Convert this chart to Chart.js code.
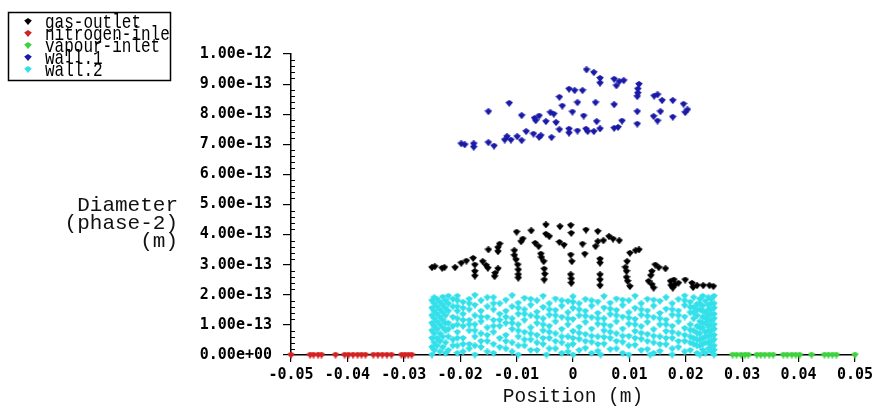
<!DOCTYPE html>
<html>
<head>
<meta charset="utf-8">
<title>Diameter (phase-2) vs Position</title>
<script src="https://cdn.jsdelivr.net/npm/chart.js@4.4.1/dist/chart.umd.min.js"></script>
<style>
  html, body { margin: 0; padding: 0; background: #fff; }
  #wrap { width: 877px; height: 409px; }
</style>
</head>
<body>
<div id="wrap"><canvas id="grafico" width="877" height="409"></canvas></div>
<script>
// posições em m, diâmetros em unidades de 1e-13 m
const xTickValues = [-0.05, -0.04, -0.03, -0.02, -0.01, 0, 0.01, 0.02, 0.03, 0.04, 0.05];
const xTickLabels = ['-0.05', '-0.04', '-0.03', '-0.02', '-0.01', '0', '0.01', '0.02', '0.03', '0.04', '0.05'];
const yTickValues = [0, 1, 2, 3, 4, 5, 6, 7, 8, 9, 10];
const yTickLabels = ['0.00e+00', '1.00e-13', '2.00e-13', '3.00e-13', '4.00e-13', '5.00e-13',
  '6.00e-13', '7.00e-13', '8.00e-13', '9.00e-13', '1.00e-12'];

const seriesNames = ['gas-outlet', 'nitrogen-inlet', 'vapour-inlet', 'wall.1', 'wall.2'];
const seriesColors = ['#000000', '#d42222', '#3fd23f', '#1a1aa8', '#33e0ea'];

const gasOutlet = [
  [-0.0250,2.90],[-0.0245,2.93],[-0.0232,2.88],[-0.0228,2.90],[-0.0209,2.90],[-0.0198,3.05],[-0.0189,3.12],[-0.0177,3.21],
  [-0.0174,2.99],[-0.0174,2.77],[-0.0174,2.62],[-0.0160,3.10],[-0.0154,2.97],[-0.0151,2.88],[-0.0133,2.86],[-0.0138,2.71],
  [-0.0139,2.60],[-0.0150,3.49],[-0.0133,3.56],[-0.0130,3.68],[-0.0133,3.43],[-0.0104,3.46],[-0.0104,3.30],[-0.0101,3.16],
  [-0.0098,2.99],[-0.0097,2.82],[-0.0097,2.66],[-0.0097,2.55],[-0.0100,4.08],[-0.0089,3.85],[-0.0092,3.76],[-0.0074,4.12],
  [-0.0067,3.71],[-0.0061,3.60],[-0.0048,4.32],[-0.0048,4.01],[-0.0042,3.93],[-0.0057,3.35],[-0.0056,3.23],[-0.0052,3.10],
  [-0.0051,2.85],[-0.0050,2.68],[-0.0051,2.49],[-0.0023,4.26],[-0.0004,4.30],[-0.0003,4.04],[-0.0024,3.74],[-0.0016,3.65],
  [-0.0004,3.32],[-0.0002,3.10],[-0.0004,2.66],[-0.0003,2.52],[-0.0003,2.38],[0.0023,4.15],[0.0044,4.10],[0.0017,3.68],
  [0.0044,3.76],[0.0054,3.79],[0.0040,3.60],[0.0064,3.93],[0.0071,3.85],[0.0082,3.79],[0.0021,3.35],[0.0048,3.18],
  [0.0048,3.05],[0.0048,2.66],[0.0048,2.49],[0.0048,2.30],[0.0101,3.38],[0.0111,3.46],[0.0117,3.49],[0.0096,3.10],
  [0.0093,2.90],[0.0095,2.77],[0.0095,2.57],[0.0097,2.44],[0.0101,2.27],[0.0146,2.99],[0.0152,2.90],[0.0164,2.86],
  [0.0140,2.77],[0.0138,2.63],[0.0134,2.44],[0.0140,2.33],[0.0143,2.22],[0.0173,2.44],[0.0179,2.49],[0.0174,2.30],
  [0.0181,2.33],[0.0187,2.38],[0.0177,2.22],[0.0199,2.49],[0.0211,2.38],[0.0220,2.30],[0.0213,2.24],[0.0231,2.30],
  [0.0242,2.30],[0.0249,2.27]
];

// entradas: diâmetro zero
const nitrogenX = [-0.0500, -0.0466, -0.0460, -0.0452, -0.0446, -0.0421, -0.0405, -0.0398, -0.0390, -0.0382,
  -0.0375, -0.0368, -0.0354, -0.0346, -0.0338, -0.0330, -0.0322, -0.0304, -0.0298, -0.0292, -0.0286];
const vapourX = [0.0283, 0.0290, 0.0298, 0.0305, 0.0311, 0.0326, 0.0333, 0.0340, 0.0348, 0.0355,
  0.0373, 0.0380, 0.0388, 0.0395, 0.0402, 0.0423, 0.0446, 0.0453, 0.0460, 0.0467, 0.0500];

const wall1 = [
  [0.0024,9.47],[0.0037,9.38],[0.0048,9.19],[0.0048,9.03],[0.0073,9.16],[0.0082,9.08],[0.0090,9.11],[0.0077,8.94],
  [0.0117,8.99],[0.0115,8.83],[0.0115,8.69],[0.0114,8.58],[-0.0007,8.83],[0.0003,8.78],[0.0017,8.78],[-0.0024,8.56],
  [0.0144,8.60],[0.0150,8.64],[0.0158,8.45],[0.0177,8.45],[0.0196,8.33],[0.0203,8.14],[0.0199,8.05],[-0.0113,8.36],
  [-0.0019,8.27],[0.0008,8.38],[0.0040,8.38],[0.0073,8.31],[0.0114,8.08],[0.0155,8.08],[0.0177,7.90],[0.0143,7.92],
  [0.0150,7.77],[-0.0150,8.08],[-0.0091,7.95],[-0.0068,7.86],[-0.0060,7.94],[-0.0066,7.78],[-0.0040,8.05],[-0.0034,8.00],
  [-0.0048,7.75],[-0.0030,7.72],[-0.0001,8.07],[0.0019,7.94],[0.0042,7.75],[0.0087,7.77],[0.0114,7.67],[-0.0024,7.48],
  [-0.0007,7.50],[-0.0007,7.37],[0.0008,7.44],[0.0023,7.50],[0.0026,7.42],[0.0037,7.42],[0.0048,7.51],[0.0073,7.53],
  [0.0080,7.56],[-0.0083,7.42],[-0.0070,7.34],[-0.0057,7.28],[-0.0060,7.23],[-0.0038,7.22],[-0.0117,7.25],[-0.0099,7.25],
  [-0.0110,7.14],[-0.0121,7.14],[-0.0091,7.12],[-0.0198,7.01],[-0.0192,6.98],[-0.0176,7.01],[-0.0176,6.90],[-0.0150,7.05],
  [-0.0140,6.94]
];

// wall.2: colunas [posição, [diâmetros...]]
const wall2Columns = [
  [-0.0250, [0.00, 0.25, 0.55, 0.80, 1.05, 1.30, 1.55, 1.80]],
  [-0.0246, [0.15, 0.40, 0.70, 0.95, 1.20, 1.45, 1.70, 1.90]],
  [-0.0241, [0.30, 0.55, 0.85, 1.10, 1.35, 1.60, 1.85]],
  [-0.0236, [0.10, 0.45, 0.70, 1.00, 1.25, 1.50, 1.75]],
  [-0.0231, [0.25, 0.60, 0.90, 1.15, 1.40, 1.65, 1.92]],
  [-0.0226, [0.05, 0.40, 0.80, 1.05, 1.30, 1.55, 1.80]],
  [-0.0221, [0.15, 0.60, 0.85, 1.05, 1.45, 1.70, 1.95]],
  [-0.0213, [0.30, 0.50, 0.95, 1.25, 1.60, 1.85]],
  [-0.0205, [0.05, 0.30, 0.55, 0.75, 1.00, 1.20, 1.45, 1.60, 1.80, 1.95]],
  [-0.0195, [0.10, 0.35, 0.55, 0.95, 1.15, 1.35, 1.55, 1.75]],
  [-0.0184, [0.20, 0.35, 0.80, 1.00, 1.15, 1.50, 1.70, 1.85]],
  [-0.0174, [0.00, 0.30, 0.60, 0.80, 1.00, 1.30, 1.65, 1.98]],
  [-0.0163, [0.25, 0.45, 0.70, 1.10, 1.25, 1.45, 1.80]],
  [-0.0152, [0.10, 0.45, 0.65, 0.90, 1.25, 1.60, 1.90]],
  [-0.0141, [0.05, 0.35, 0.75, 0.95, 1.15, 1.50, 1.70, 1.90]],
  [-0.0130, [0.25, 0.55, 0.95, 1.15, 1.35, 1.70]],
  [-0.0119, [0.20, 0.45, 0.65, 1.05, 1.25, 1.45, 1.82]],
  [-0.0108, [0.10, 0.40, 0.85, 1.05, 1.20, 1.60, 1.97]],
  [-0.0097, [0.00, 0.30, 0.60, 0.80, 1.00, 1.35, 1.55, 1.72]],
  [-0.0086, [0.30, 0.50, 0.75, 1.15, 1.35, 1.50, 1.88]],
  [-0.0075, [0.15, 0.50, 0.70, 0.90, 1.30, 1.65, 1.85]],
  [-0.0064, [0.15, 0.40, 0.65, 1.05, 1.25, 1.42, 1.80]],
  [-0.0053, [0.35, 0.55, 0.80, 1.00, 1.20, 1.58, 1.95]],
  [-0.0047, [0.00]],
  [-0.0042, [0.20, 0.55, 0.75, 0.95, 1.32, 1.50, 1.70]],
  [-0.0031, [0.20, 0.45, 0.70, 1.10, 1.30, 1.48, 1.86]],
  [-0.0020, [0.05, 0.40, 0.60, 0.85, 1.25, 1.62, 1.80]],
  [-0.0009, [0.10, 0.30, 0.60, 1.00, 1.20, 1.40, 1.78]],
  [0.0000, [0.00, 0.35, 0.55, 0.78, 1.18, 1.55, 1.75, 1.93]],
  [0.0011, [0.15, 0.52, 0.72, 0.92, 1.30, 1.50, 1.70]],
  [0.0022, [0.22, 0.45, 0.68, 1.08, 1.28, 1.45, 1.84]],
  [0.0033, [0.05, 0.42, 0.62, 0.86, 1.24, 1.62, 1.80]],
  [0.0044, [0.12, 0.35, 0.60, 1.02, 1.20, 1.38, 1.76]],
  [0.0049, [0.00]],
  [0.0055, [0.36, 0.58, 0.80, 1.00, 1.20, 1.56, 1.94]],
  [0.0066, [0.18, 0.55, 0.75, 0.96, 1.34, 1.52, 1.72]],
  [0.0077, [0.20, 0.45, 0.70, 1.10, 1.30, 1.48, 1.86]],
  [0.0088, [0.05, 0.42, 0.62, 0.86, 1.26, 1.64, 1.82]],
  [0.0099, [0.00, 0.30, 0.62, 1.02, 1.22, 1.40, 1.80]],
  [0.0110, [0.32, 0.55, 0.78, 1.00, 1.18, 1.55, 1.95]],
  [0.0121, [0.15, 0.52, 0.72, 0.94, 1.32, 1.50, 1.70]],
  [0.0132, [0.18, 0.45, 0.68, 1.08, 1.28, 1.46, 1.85]],
  [0.0137, [0.00]],
  [0.0143, [0.05, 0.40, 0.62, 0.84, 1.24, 1.62, 1.82]],
  [0.0154, [0.12, 0.35, 0.60, 1.00, 1.20, 1.38, 1.78]],
  [0.0165, [0.34, 0.55, 0.78, 1.00, 1.16, 1.52, 1.90]],
  [0.0176, [0.00, 0.20, 0.55, 0.75, 0.95, 1.32, 1.50, 1.70]],
  [0.0187, [0.25, 0.45, 0.70, 1.10, 1.30, 1.46, 1.84]],
  [0.0198, [0.10, 0.45, 0.65, 0.88, 1.26, 1.64, 1.80, 1.96]],
  [0.0208, [0.15, 0.40, 0.60, 0.82, 1.00, 1.40, 1.58, 1.75]],
  [0.0214, [0.35, 0.55, 0.80, 1.20, 1.40, 1.58, 1.90]],
  [0.0220, [0.05, 0.30, 0.50, 0.72, 0.95, 1.30, 1.50, 1.68]],
  [0.0225, [0.00, 0.30, 0.50, 0.70, 0.90, 1.10, 1.50, 1.70, 1.85]],
  [0.0230, [0.15, 0.35, 0.55, 0.88, 1.05, 1.25, 1.45, 1.62, 1.95]],
  [0.0235, [0.05, 0.40, 0.60, 0.75, 1.05, 1.22, 1.40, 1.78]],
  [0.0240, [0.20, 0.40, 0.60, 0.80, 0.95, 1.15, 1.30, 1.50, 1.65, 1.90]],
  [0.0245, [0.10, 0.30, 0.45, 0.65, 0.80, 1.00, 1.15, 1.35, 1.50, 1.70, 1.85]],
  [0.0250, [0.00, 0.15, 0.30, 0.50, 0.65, 0.85, 1.00, 1.20, 1.35, 1.55, 1.70, 1.95]]
];

// marcador tipo "seta" do Fluent
function makeMarker(color) {
  const c = document.createElement('canvas');
  c.width = 8; c.height = 7;
  const g = c.getContext('2d');
  g.fillStyle = color;
  g.beginPath();
  g.moveTo(4, 0);
  g.lineTo(7.8, 2.6);
  g.lineTo(4, 7);
  g.lineTo(0.2, 2.6);
  g.closePath();
  g.fill();
  return c;
}
const markers = seriesColors.map(makeMarker);

const pairs = arr => arr.map(p => ({ x: p[0], y: p[1] }));
const seriesData = [
  pairs(gasOutlet),
  nitrogenX.map(x => ({ x: x, y: 0 })),
  vapourX.map(x => ({ x: x, y: 0 })),
  pairs(wall1),
  wall2Columns.flatMap(col => col[1].map(d => ({ x: col[0], y: d })))
];

const fluentDecor = {
  id: 'fluentDecor',
  afterDraw(chart) {
    const ctx = chart.ctx;
    const area = chart.chartArea;
    const ys = chart.scales.y;
    ctx.save();

    // ticks menores no eixo y
    ctx.strokeStyle = '#000';
    ctx.lineWidth = 1;
    for (let i = 0; i < yTickValues.length - 1; i++) {
      for (let k = 1; k < 5; k++) {
        const py = Math.round(ys.getPixelForValue(yTickValues[i] + k * 0.2)) + 0.5;
        ctx.beginPath();
        ctx.moveTo(area.left, py);
        ctx.lineTo(area.left + 4, py);
        ctx.stroke();
      }
    }

    // títulos dos eixos
    ctx.fillStyle = '#111';
    ctx.font = '21px "Liberation Mono"';
    ctx.textBaseline = 'middle';
    ctx.textAlign = 'right';
    ctx.fillText('Diameter', 178, 205);
    ctx.fillText('(phase-2)', 178, 223);
    ctx.fillText('(m)', 178, 241);
    ctx.font = '19.5px "Liberation Mono"';
    ctx.textAlign = 'center';
    ctx.fillText('Position (m)', (area.left + area.right) / 2, 397);

    // legenda
    ctx.strokeStyle = '#000';
    ctx.lineWidth = 1.5;
    ctx.strokeRect(8.5, 12.5, 162, 68);
    ctx.beginPath();
    ctx.rect(9, 13, 161, 67);
    ctx.clip();
    ctx.font = '16px "Liberation Mono"';
    ctx.textAlign = 'left';
    ctx.fillStyle = '#000';
    chart.data.datasets.forEach((ds, i) => {
      const ry = 22 + i * 12;
      ctx.drawImage(markers[i], 24, ry - 4);
      ctx.save();
      ctx.translate(45, ry);
      ctx.scale(1, 1.3);
      ctx.fillText(ds.label, 0, 0);
      ctx.restore();
    });
    ctx.restore();
  }
};

new Chart(document.getElementById('grafico'), {
  type: 'scatter',
  data: {
    datasets: seriesNames.map((name, i) => ({
      label: name,
      data: seriesData[i],
      pointStyle: markers[i],
      backgroundColor: seriesColors[i],
      borderColor: seriesColors[i],
      clip: false
    }))
  },
  options: {
    responsive: false,
    animation: false,
    events: [],
    layout: { padding: { left: 0, top: 54, right: 18, bottom: 0 } },
    plugins: {
      legend: { display: false },
      tooltip: { enabled: false }
    },
    scales: {
      x: {
        type: 'linear',
        min: -0.05,
        max: 0.05,
        afterBuildTicks: s => { s.ticks = xTickValues.map(v => ({ value: v })); },
        afterFit: s => { s.height = 54; },
        ticks: {
          callback: (v, i) => xTickLabels[i],
          font: { family: 'DejaVu Sans Mono', size: 15, weight: 'bold' },
          color: '#000',
          padding: 4,
          maxRotation: 0,
          autoSkip: false
        },
        grid: { drawOnChartArea: false, tickLength: 7, color: '#000', lineWidth: 1.2 },
        border: { color: '#000', width: 1.5 }
      },
      y: {
        type: 'linear',
        min: 0,
        max: 10,
        afterBuildTicks: s => { s.ticks = yTickValues.map(v => ({ value: v })); },
        afterFit: s => { s.width = 291; },
        ticks: {
          callback: (v, i) => yTickLabels[i],
          font: { family: 'DejaVu Sans Mono', size: 15, weight: 'bold' },
          color: '#000',
          padding: 11,
          autoSkip: false
        },
        grid: { drawOnChartArea: false, tickLength: 8, color: '#000', lineWidth: 1.2 },
        border: { color: '#000', width: 1.5 }
      }
    }
  },
  plugins: [fluentDecor]
});
</script>
</body>
</html>
